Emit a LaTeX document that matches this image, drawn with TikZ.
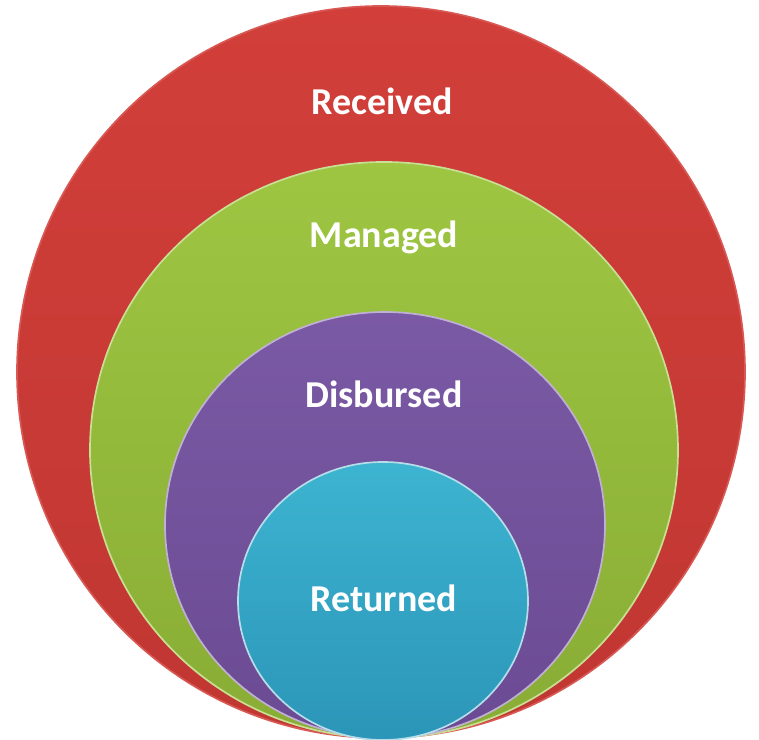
\documentclass[tikz,border=0pt]{standalone}
\usepackage{fontspec}
\setmainfont{Carlito}
\usepackage{tikz}
\usetikzlibrary{shapes,positioning}

\definecolor{recred}{RGB}{209,59,54}
\definecolor{mangreen}{RGB}{155,196,60}
\definecolor{dispurple}{RGB}{116,81,160}
\definecolor{retblue}{RGB}{46,157,194}

\begin{document}
\begin{tikzpicture}[x=0.025cm, y=0.025cm,
    ring/.style={line width=1.2pt},
    ringtext/.style={inner sep=0pt, text=white, font=\fontsize{27}{30}\selectfont\bfseries}]
          \useasboundingbox (0,0) rectangle (759,-740);
          \shade [ring, draw=recred!85!white, top color=recred!98!white, bottom color=recred!92!black] (381,-372) ellipse (364 and 366);
          \shade [ring, draw=mangreen!55!white, top color=mangreen!97!white, bottom color=mangreen!88!black] (384,-450) ellipse (294 and 288);
          \shade [ring, draw=dispurple!45!white, top color=dispurple!95!white, bottom color=dispurple!92!black] (385,-525) ellipse (220 and 213);
          \shade [ring, draw=retblue!35!white, top color=retblue!85!cyan!90!white, bottom color=retblue!95!black] (383,-601) ellipse (145 and 139);
          \node [ringtext] (rec) at (382,-101) {Received};
          \node [ringtext] (man) at (384,-237) {Managed};
          \node [ringtext] (dis) at (384,-394) {Disbursed};
          \node [ringtext] (ret) at (384,-598) {Returned};
        \end{tikzpicture}
\end{document}
